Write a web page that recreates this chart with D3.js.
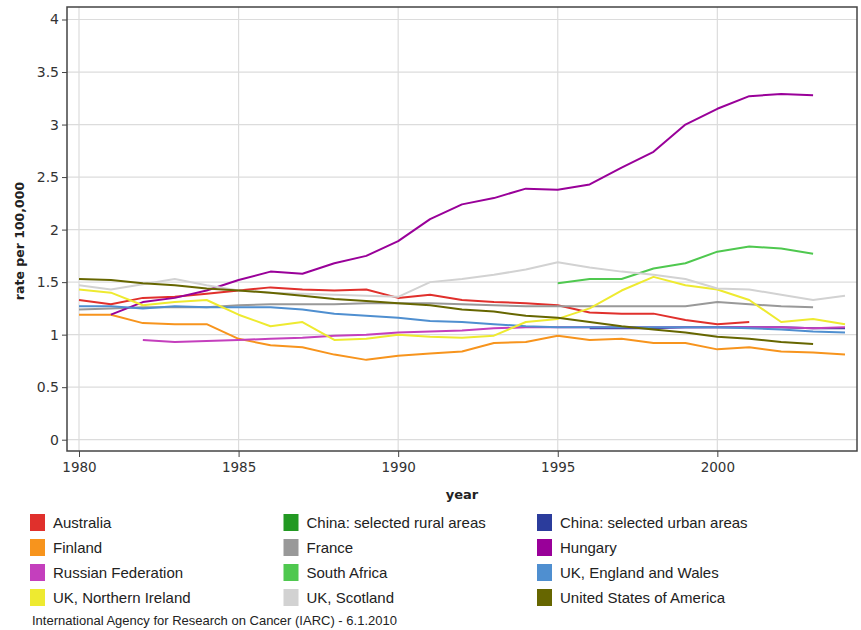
<!DOCTYPE html>
<html>
<head>
<meta charset="utf-8">
<script src="https://cdn.jsdelivr.net/npm/d3@7"></script>
<style>
  body { margin: 0; background: #fff; }
  svg text { font-family: "DejaVu Sans", Verdana, sans-serif; }
</style>
</head>
<body>
<div id="chart"></div>
<script>
// year categories
const years = [1980,1981,1982,1983,1984,1985,1986,1987,1988,1989,1990,1991,1992,
               1993,1994,1995,1996,1997,1998,1999,2000,2001,2002,2003,2004];
const y_ticks = [0, 0.5, 1, 1.5, 2, 2.5, 3, 3.5, 4];
const x_ticks = [1980, 1985, 1990, 1995, 2000];

// rate per 100,000, one value per year (null = no data)
const australia = [1.33,1.29,1.35,1.36,1.39,1.42,1.45,1.43,1.42,1.43,1.35,1.38,1.33,1.31,1.30,1.28,1.21,1.20,1.20,1.14,1.10,1.12,null,null,null];
const china_rural = [];
const china_urban = [null,null,null,null,null,null,null,null,null,null,null,null,null,null,null,null,1.06,1.06,1.06,1.07,1.07,1.07,1.07,1.06,1.06];
const finland = [1.19,1.19,1.11,1.10,1.10,0.96,0.90,0.88,0.81,0.76,0.80,0.82,0.84,0.92,0.93,0.99,0.95,0.96,0.92,0.92,0.86,0.88,0.84,0.83,0.81];
const france = [1.24,1.25,1.26,1.26,1.26,1.28,1.29,1.29,1.29,1.30,1.30,1.30,1.29,1.28,1.27,1.27,1.27,1.27,1.27,1.27,1.31,1.29,1.27,1.26,null];
const hungary = [null,1.19,1.31,1.35,1.42,1.52,1.60,1.58,1.68,1.75,1.89,2.10,2.24,2.30,2.39,2.38,2.43,2.59,2.74,3.00,3.15,3.27,3.29,3.28,null];
const russia = [null,null,0.95,0.93,0.94,0.95,0.96,0.97,0.99,1.00,1.02,1.03,1.04,1.06,1.07,1.07,1.07,1.07,1.07,1.07,1.07,1.07,1.07,1.06,1.07];
const south_africa = [null,null,null,null,null,null,null,null,null,null,null,null,null,null,null,1.49,1.53,1.53,1.63,1.68,1.79,1.84,1.82,1.77,null];
const uk_england_wales = [1.27,1.27,1.25,1.27,1.26,1.26,1.26,1.24,1.20,1.18,1.16,1.13,1.12,1.10,1.08,1.07,1.07,1.07,1.07,1.07,1.07,1.06,1.05,1.03,1.02];
const uk_northern_ireland = [1.43,1.40,1.28,1.31,1.33,1.19,1.08,1.12,0.95,0.96,1.00,0.98,0.97,0.99,1.12,1.15,1.25,1.42,1.55,1.47,1.43,1.33,1.12,1.15,1.10];
const uk_scotland = [1.47,1.43,1.48,1.53,1.47,1.42,1.40,1.39,1.38,1.37,1.36,1.50,1.53,1.57,1.62,1.69,1.64,1.60,1.57,1.53,1.44,1.43,1.38,1.33,1.37];
const usa = [1.53,1.52,1.49,1.47,1.44,1.42,1.40,1.37,1.34,1.32,1.30,1.28,1.24,1.22,1.18,1.16,1.12,1.08,1.05,1.02,0.98,0.96,0.93,0.91,null];

// legend order (row by row, three columns)
const series = [
  {name: 'Australia', values: australia, color: '#e0302c'},
  {name: 'China: selected rural areas', values: china_rural, color: '#229922'},
  {name: 'China: selected urban areas', values: china_urban, color: '#2b3c9c'},
  {name: 'Finland', values: finland, color: '#f7941d'},
  {name: 'France', values: france, color: '#999999'},
  {name: 'Hungary', values: hungary, color: '#990099'},
  {name: 'Russian Federation', values: russia, color: '#c43fbd'},
  {name: 'South Africa', values: south_africa, color: '#4fc84f'},
  {name: 'UK, England and Wales', values: uk_england_wales, color: '#4f8fd0'},
  {name: 'UK, Northern Ireland', values: uk_northern_ireland, color: '#eeea30'},
  {name: 'UK, Scotland', values: uk_scotland, color: '#d2d2d2'},
  {name: 'United States of America', values: usa, color: '#666600'},
];

const width = 861, height = 630;
const frame = {left: 67, right: 857, top: 7, bottom: 451};

const svg = d3.select('#chart').append('svg')
  .attr('width', width).attr('height', height);

const x = d3.scaleLinear().domain([1980, 2004]).range([79, 845]);
const y = d3.scaleLinear().domain([0, 4]).range([439.7, 19.5]);

// grid
const grid = svg.append('g').attr('stroke', '#dcdcdc').attr('stroke-width', 1.2);
grid.selectAll('line.h').data(y_ticks).join('line')
  .attr('x1', frame.left).attr('x2', frame.right)
  .attr('y1', d => y(d)).attr('y2', d => y(d));
grid.selectAll('line.v').data(x_ticks).join('line')
  .attr('y1', frame.top).attr('y2', frame.bottom)
  .attr('x1', d => x(d)).attr('x2', d => x(d));

// lines
const line = d3.line()
  .defined(d => d.v != null)
  .x(d => x(d.year))
  .y(d => y(d.v));

svg.append('g').selectAll('path').data(series).join('path')
  .attr('fill', 'none')
  .attr('stroke', d => d.color)
  .attr('stroke-width', 2)
  .attr('stroke-linejoin', 'round')
  .attr('d', d => line(d.values.map((v, i) => ({year: years[i], v}))));

// frame
svg.append('rect')
  .attr('x', frame.left).attr('y', frame.top)
  .attr('width', frame.right - frame.left).attr('height', frame.bottom - frame.top)
  .attr('fill', 'none').attr('stroke', '#444').attr('stroke-width', 1.5);

// axes
const yAxis = d3.axisLeft(y).tickValues(y_ticks).tickSize(5).tickPadding(3)
  .tickFormat(d3.format('~g'));
svg.append('g').attr('transform', `translate(${frame.left},0)`).call(yAxis)
  .call(g => g.select('.domain').remove())
  .call(g => g.selectAll('line').attr('stroke', '#444'))
  .call(g => g.selectAll('text').attr('fill', '#333').style('font-size', '14px'));

const xAxis = d3.axisBottom(x).tickValues(x_ticks).tickSize(6).tickPadding(5)
  .tickFormat(d3.format('d'));
svg.append('g').attr('transform', `translate(0,${frame.bottom})`).call(xAxis)
  .call(g => g.select('.domain').remove())
  .call(g => g.selectAll('line').attr('stroke', '#444'))
  .call(g => g.selectAll('text').attr('fill', '#333').style('font-size', '13.5px'));

// axis titles
svg.append('text')
  .attr('x', 462).attr('y', 499)
  .attr('text-anchor', 'middle')
  .style('font-size', '13px').style('font-weight', 'bold').attr('fill', '#222')
  .text('year');

svg.append('text')
  .attr('transform', 'translate(24,241) rotate(-90)')
  .attr('text-anchor', 'middle')
  .style('font-size', '12.5px').style('font-weight', 'bold').attr('fill', '#222')
  .text('rate per 100,000');

// legend
const legend = svg.append('g').selectAll('g').data(series).join('g')
  .attr('transform', (d, i) => `translate(${30 + (i % 3) * 253.5},${514 + Math.floor(i / 3) * 25})`);

legend.append('rect')
  .attr('width', 15).attr('height', 17)
  .attr('fill', d => d.color);

legend.append('text')
  .attr('x', 23).attr('y', 14)
  .style('font-family', '"Liberation Sans", Arial, sans-serif')
  .style('font-size', '15px').attr('fill', '#222')
  .text(d => d.name);

svg.append('text')
  .attr('x', 32).attr('y', 625)
  .style('font-family', '"Liberation Sans", Arial, sans-serif')
  .style('font-size', '13px').attr('fill', '#222')
  .text('International Agency for Research on Cancer (IARC) - 6.1.2010');
</script>
</body>
</html>
